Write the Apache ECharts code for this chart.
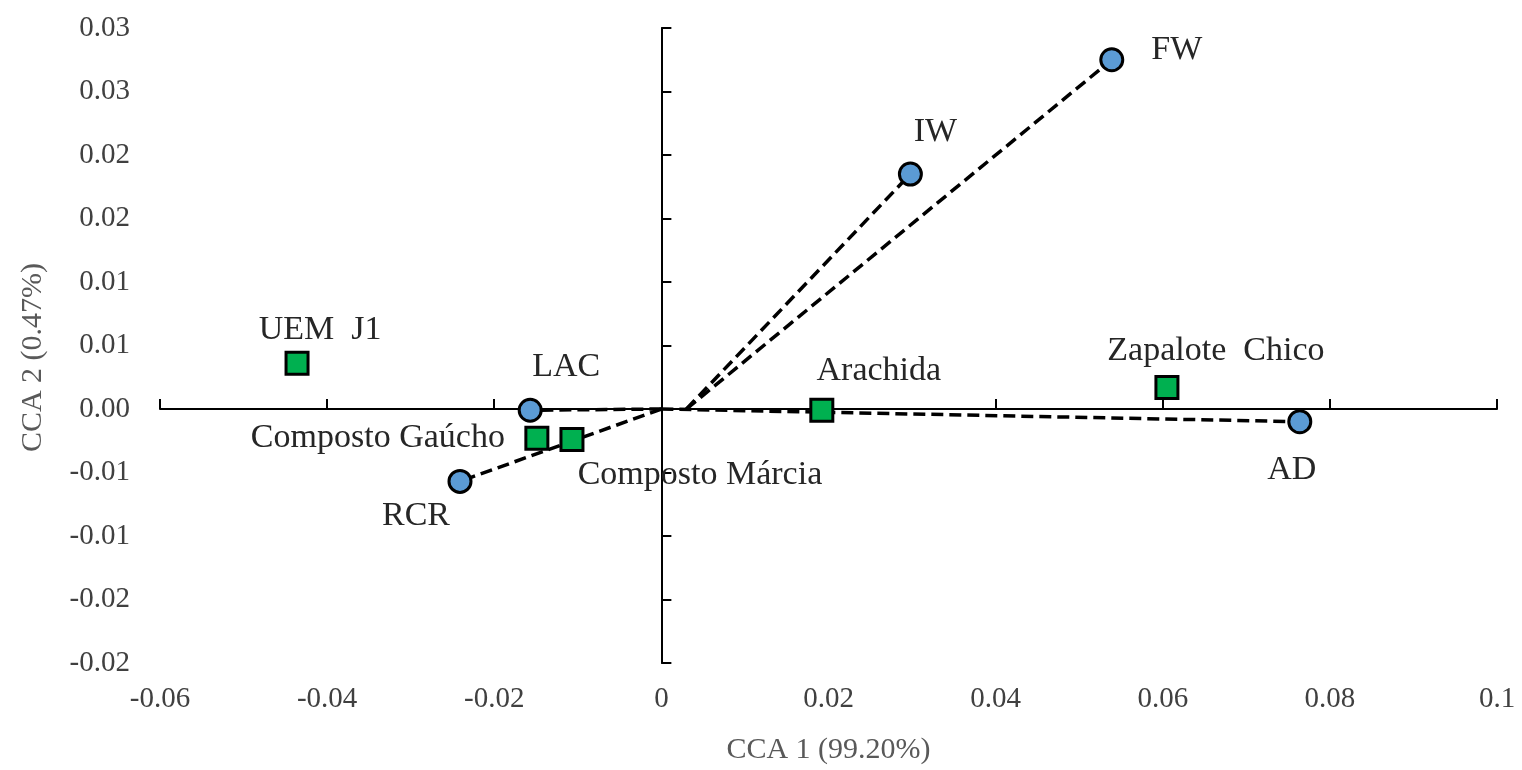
<!DOCTYPE html>
<html>
<head>
<meta charset="utf-8">
<title>CCA biplot</title>
<script src="https://cdn.jsdelivr.net/npm/echarts@6/dist/echarts.min.js"></script>
<style>
  html, body { margin: 0; padding: 0; background: #fff; }
  #chart { width: 1522px; height: 770px; }
</style>
</head>
<body>
<div id="chart"></div>
<script>
// environmental variables (blue circles) and their vectors
var envNames = ['FW', 'IW', 'LAC', 'RCR', 'AD'];
var envX = [0.0539, 0.0298, -0.0157, -0.0241, 0.0764];
var envY = [0.0275, 0.0185, -0.0001, -0.0057, -0.0010];
var vecStartX = [0.003, 0.003, 0, 0, 0];
var vecStartY = [0, 0, 0, 0, 0];

// cultivars (green squares)
var siteNames = ['UEM  J1', 'Zapalote  Chico', 'Arachida', 'Composto Gaúcho', 'Composto Márcia'];
var siteX = [-0.0436, 0.0605, 0.0192, -0.0149, -0.0107];
var siteY = [0.0036, 0.0017, -0.0001, -0.0023, -0.0024];

// axes
var xMin = -0.06, xMax = 0.1, xStep = 0.02;
var yMin = -0.02, yMax = 0.03, yStep = 0.005;
var yTickLabels = ['-0.02', '-0.02', '-0.01', '-0.01', '0.00', '0.01', '0.01', '0.02', '0.02', '0.03', '0.03'];

// where each text label sits relative to its marker (px)
var labelOffset = {
  'FW': [65, -10],
  'IW': [25, -42],
  'LAC': [36, -43],
  'RCR': [-44, 35],
  'AD': [-8, 48],
  'UEM  J1': [23, -33],
  'Zapalote  Chico': [49, -36],
  'Arachida': [57, -39],
  'Composto Gaúcho': [-159, 0],
  'Composto Márcia': [128, 36]
};

var serif = 'Liberation Serif';

function points(names, xs, ys) {
  return names.map(function (n, i) {
    return { name: n, value: [xs[i], ys[i]], label: { offset: labelOffset[n] } };
  });
}

var series = [];
envNames.forEach(function (n, i) {
  series.push({
    type: 'line',
    name: n + ' vector',
    data: [[vecStartX[i], vecStartY[i]], [envX[i], envY[i]]],
    symbol: 'none',
    silent: true,
    z: 2,
    lineStyle: { color: '#000', width: 3.5, type: [12, 6] }
  });
});

var pointLabel = {
  show: true,
  position: 'inside',
  formatter: '{b}',
  fontFamily: serif,
  fontSize: 34,
  color: '#262626',
  align: 'center',
  verticalAlign: 'middle'
};

series.push({
  type: 'scatter',
  name: 'variables',
  data: points(envNames, envX, envY),
  symbol: 'circle',
  symbolSize: 22,
  z: 4,
  itemStyle: { color: '#5B9BD5', borderColor: '#000', borderWidth: 3, opacity: 1 },
  label: pointLabel
});
series.push({
  type: 'scatter',
  name: 'cultivars',
  data: points(siteNames, siteX, siteY),
  symbol: 'rect',
  symbolSize: 22,
  z: 4,
  itemStyle: { color: '#00B050', borderColor: '#000', borderWidth: 3, opacity: 1 },
  label: pointLabel
});

var axisLineStyle = { color: '#000', width: 2 };

var option = {
  backgroundColor: '#fff',
  animation: false,
  grid: { left: 160, right: 25, top: 28, bottom: 107, containLabel: false, outerBoundsMode: 'none' },
  xAxis: [
    {
      type: 'value', min: xMin, max: xMax, interval: xStep, position: 'bottom',
      axisLine: { show: false, onZero: false },
      axisTick: { show: false },
      splitLine: { show: false },
      axisLabel: { fontFamily: serif, fontSize: 29, color: '#404040', margin: 22 },
      name: 'CCA 1 (99.20%)',
      nameLocation: 'middle',
      nameGap: 72,
      nameTextStyle: { fontFamily: serif, fontSize: 30, color: '#595959' }
    },
    {
      type: 'value', min: xMin, max: xMax, interval: xStep, position: 'bottom',
      axisLine: { show: true, onZero: true, onZeroAxisIndex: 0, lineStyle: axisLineStyle },
      axisTick: { show: true, inside: true, length: 10, lineStyle: axisLineStyle },
      splitLine: { show: false },
      axisLabel: { show: false }
    }
  ],
  yAxis: [
    {
      type: 'value', min: yMin, max: yMax, interval: yStep, position: 'left',
      axisLine: { show: false, onZero: false },
      axisTick: { show: false },
      splitLine: { show: false },
      axisLabel: {
        fontFamily: serif, fontSize: 29, color: '#404040', margin: 30,
        formatter: function (v) {
          return yTickLabels[Math.round((v - yMin) / yStep)];
        }
      },
      name: 'CCA 2 (0.47%)',
      nameLocation: 'middle',
      nameGap: 112,
      nameTextStyle: { fontFamily: serif, fontSize: 30, color: '#595959', padding: [0, 24, 0, 0] }
    },
    {
      type: 'value', min: yMin, max: yMax, interval: yStep, position: 'left',
      axisLine: { show: true, onZero: true, onZeroAxisIndex: 0, lineStyle: axisLineStyle },
      axisTick: { show: true, inside: true, length: 10, lineStyle: axisLineStyle },
      splitLine: { show: false },
      axisLabel: { show: false }
    }
  ],
  series: series
};

var chart = echarts.init(document.getElementById('chart'));
chart.setOption(option);
</script>
</body>
</html>
